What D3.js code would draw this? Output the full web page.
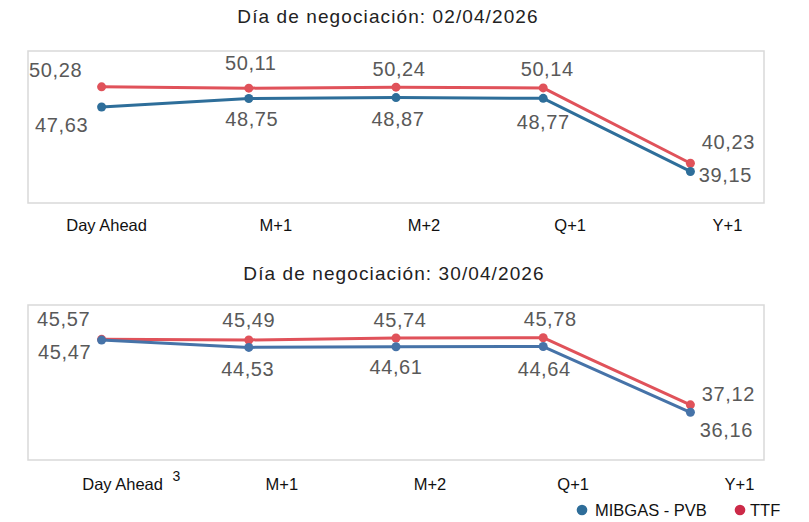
<!DOCTYPE html>
<html>
<head>
<meta charset="utf-8">
<script src="https://cdn.jsdelivr.net/npm/d3@7"></script>
<style>
  body { margin: 0; background: #fff; }
  svg { display: block; }
</style>
</head>
<body>
<div id="chart"></div>
<script>
// Precios MIBGAS vs TTF, dos días de negociación

const categories = ["Day Ahead", "M+1", "M+2", "Q+1", "Y+1"];
const tradeDates = ["02/04/2026", "30/04/2026"];
const mibgasApr02 = [47.63, 48.75, 48.87, 48.77, 39.15];
const ttfApr02 = [50.28, 50.11, 50.24, 50.14, 40.23];
const mibgasApr30 = [45.47, 44.53, 44.61, 44.64, 36.16];
const ttfApr30 = [45.57, 45.49, 45.74, 45.78, 37.12];
const yDomainApr02 = [35, 55];
const yDomainApr30 = [30, 50];
const seriesNames = ["MIBGAS - PVB", "TTF"];

const width = 809,
    height = 522;

const colors = {
    mibgas: ["#2e6e9a", "#4673a8"],
    ttf: "#e0525a",
    legendMibgas: "#2e6d99",
    legendTtf: "#cc2a48"
};

// layout for each panel (positions only)
const panels = [
    {
        date: tradeDates[0], mibgas: mibgasApr02, ttf: ttfApr02, domain: yDomainApr02,
        top: 51, bottom: 203, titleX: 388, titleY: 23, axisY: 231,
        axisDx: [5, 27, 28, 27, 37],
        ttfLab: [[-46, -17], [2, -25], [3, -18], [4, -19], [38, -21]],
        mibLab: [[-40, 18], [3, 20], [2, 21], [0, 23], [35, 3]],
        note: null, mibColor: colors.mibgas[0]
    },
    {
        date: tradeDates[1], mibgas: mibgasApr30, ttf: ttfApr30, domain: yDomainApr30,
        top: 305, bottom: 460, titleX: 394, titleY: 280, axisY: 490,
        axisDx: [21, 33, 34, 30, 49],
        ttfLab: [[-38, -21], [0, -20], [4, -18], [7, -19], [38, -11]],
        mibLab: [[-37, 12], [-1, 21], [0, 20], [1, 22], [36, 18]],
        note: "3", mibColor: colors.mibgas[1]
    }
];

const esLocale = d3.formatLocale({ decimal: ",", thousands: ".", grouping: [3], currency: ["", " €"] });
const fmt = esLocale.format(".2f");

const svg = d3.select("#chart")
    .append("svg")
    .attr("width", width)
    .attr("height", height)
    .attr("viewBox", [0, 0, width, height]);

const x = d3.scalePoint()
    .domain(categories)
    .range([28, 764])
    .padding(0.5);

panels.forEach(p => {
    const y = d3.scaleLinear()
        .domain(p.domain)
        .range([p.bottom, p.top]);

    const g = svg.append("g");

    g.append("rect") // plot frame
        .attr("x", 28)
        .attr("y", p.top)
        .attr("width", 736)
        .attr("height", p.bottom - p.top)
        .attr("fill", "#fff")
        .attr("stroke", "#d9d9d9")
        .attr("stroke-width", 1.5);

    g.append("text")
        .attr("x", p.titleX)
        .attr("y", p.titleY)
        .attr("text-anchor", "middle")
        .attr("font-family", "Liberation Sans, Arial, sans-serif")
        .attr("font-size", 19)
        .attr("letter-spacing", 1.1)
        .attr("fill", "#222")
        .text(`Día de negociación: ${p.date}`);

    // category labels
    g.selectAll(".cat")
        .data(categories)
        .join("text")
        .attr("class", "cat")
        .attr("x", (d, i) => x(d) + p.axisDx[i])
        .attr("y", p.axisY)
        .attr("text-anchor", "middle")
        .attr("font-family", "Liberation Sans, Arial, sans-serif")
        .attr("font-size", 16.5)
        .attr("fill", "#111")
        .text(d => d);

    if (p.note) {
        g.append("text")
            .attr("x", x(categories[0]) + p.axisDx[0] + 50)
            .attr("y", p.axisY - 9)
            .attr("text-anchor", "start")
            .attr("font-family", "Liberation Sans, Arial, sans-serif")
            .attr("font-size", 14)
            .attr("fill", "#111")
            .text(p.note);
    }

    const line = d3.line()
        .x((d, i) => x(categories[i]))
        .y(d => y(d));

    const series = [
        { key: "ttf", values: p.ttf, color: colors.ttf, lab: p.ttfLab },
        { key: "mibgas", values: p.mibgas, color: p.mibColor, lab: p.mibLab }
    ];

    series.forEach(s => {
        g.append("path")
            .datum(s.values)
            .attr("fill", "none")
            .attr("stroke", s.color)
            .attr("stroke-width", 3)
            .attr("stroke-linejoin", "round")
            .attr("d", line);

        g.selectAll(`.dot-${s.key}`)
            .data(s.values)
            .join("circle")
            .attr("class", `dot-${s.key}`)
            .attr("cx", (d, i) => x(categories[i]))
            .attr("cy", d => y(d))
            .attr("r", 4.5)
            .attr("fill", s.color);
    });

    series.forEach(s => {
        g.selectAll(`.lab-${s.key}`)
            .data(s.values)
            .join("text")
            .attr("class", `lab-${s.key}`)
            .attr("x", (d, i) => x(categories[i]) + s.lab[i][0])
            .attr("y", (d, i) => y(d) + s.lab[i][1])
            .attr("dy", "0.36em")
            .attr("text-anchor", "middle")
            .attr("font-family", "Liberation Sans, Arial, sans-serif")
            .attr("font-size", 20)
            .attr("letter-spacing", 0.6)
            .attr("fill", "#595959")
            .text(d => fmt(d));
    });
});

// legend
const legend = svg.append("g")
    .attr("font-family", "Liberation Sans, Arial, sans-serif")
    .attr("font-size", 16.5)
    .attr("fill", "#111");

const legendItems = [
    { name: seriesNames[0], color: colors.legendMibgas, cx: 582, tx: 595 },
    { name: seriesNames[1], color: colors.legendTtf, cx: 740, tx: 750 }
];

legendItems.forEach(it => {
    legend.append("circle")
        .attr("cx", it.cx)
        .attr("cy", 510)
        .attr("r", 5.3)
        .attr("fill", it.color);
    legend.append("text")
        .attr("x", it.tx)
        .attr("y", 516)
        .text(it.name);
});
</script>
</body>
</html>
